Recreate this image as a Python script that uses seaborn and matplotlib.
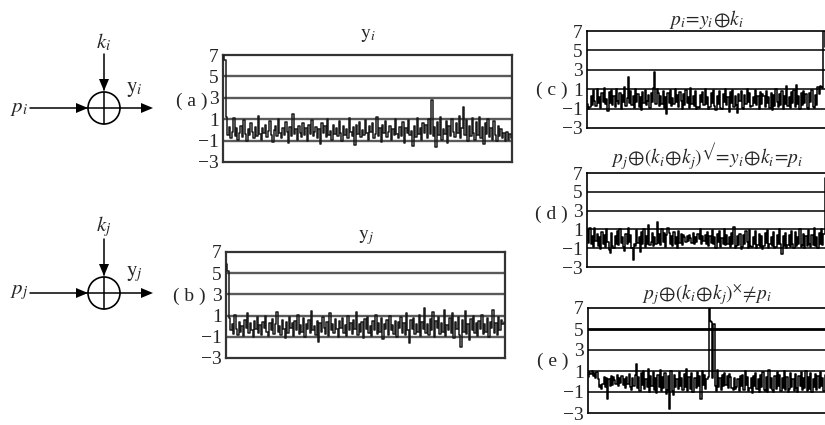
import matplotlib
matplotlib.use("Agg")
import matplotlib.pyplot as plt
from matplotlib.patches import Circle
import numpy as np
import pandas as pd
import seaborn as sns

# ---- signal samples (200 per trace) ---------------------------------------
y_i = [
    7.0, 6.5, 1.2, -0.5, 0.3, -0.8, -0.2, 1.1, -0.6, 0.2, -0.9, -0.3, 0.4, -0.7, 0.9, -0.4, -1.0, 0.1, -0.5, 0.6,
    -0.2, -0.8, 0.3, -0.6, 1.3, -0.4, -0.9, 0.2, -0.3, 0.5, -0.7, -0.1, 0.8, -0.5, -1.1, 0.0, 0.4, -0.6, 1.0, -0.3,
    -0.8, 0.2, -0.5, 0.7, -0.2, -1.2, 0.3, -0.6, 1.5, -0.4, 0.1, -0.9, 0.4, -0.3, -0.7, 0.6, -0.5, 0.2, -1.0, 0.5,
    -0.4, 0.9, -0.6, -0.2, 0.3, -0.8, 0.1, -1.3, 0.6, -0.3, 0.4, -0.7, 1.0, -0.5, -0.1, -0.9, 0.5, -0.4, 0.2, -0.6,
    0.8, -0.3, -1.0, 0.4, -0.5, 0.1, -0.8, 1.1, -0.2, -0.6, 0.3, -1.4, 0.5, -0.4, 0.7, -0.7, 0.0, -0.5, 0.9, -0.3,
    -0.9, 0.4, -0.2, 0.6, -0.8, -0.4, 1.2, -0.6, 0.2, -1.1, 0.5, -0.3, 0.8, -0.7, -0.2, 0.4, -0.9, 0.1, -0.5, 1.0,
    -0.4, -0.8, 0.3, -0.6, 0.7, -1.2, 0.2, -0.3, 0.9, -0.5, -0.1, -1.5, 0.4, -0.7, 1.1, -0.4, 0.2, -0.9, 0.6, -0.3,
    0.5, -0.8, 1.0, -0.4, 2.8, -0.6, 0.3, -1.6, 0.7, -0.5, 1.2, -0.9, 0.1, -0.4, 0.8, -1.2, 0.4, -0.6, 1.0, -0.2,
    -0.7, 0.6, -0.3, 1.3, -0.8, 0.2, 2.1, -0.5, 0.9, -1.0, 0.4, -0.6, 1.1, -0.3, -0.9, 0.7, -0.5, 1.2, -0.8, 0.3,
    -1.3, 0.6, -0.4, 1.0, -0.7, 0.2, -0.9, 0.8, -0.5, -1.0, 0.4, -0.6, 0.1, -0.8, -0.3, -1.0, -0.2, -0.9, -0.4, -0.8,
]
y_j = [
    5.9, 5.2, 0.8, -0.4, 0.2, -0.7, 1.1, -0.3, -0.8, 0.4, -0.5, 0.0, -0.9, 0.6, -0.2, 1.2, -0.6, 0.3, -0.4, -1.0,
    0.5, -0.3, 0.9, -0.6, 0.1, -0.8, 0.4, -0.2, 1.0, -0.5, -0.9, 0.3, -0.4, 0.7, -0.7, 0.2, 1.3, -0.5, 0.0, -0.8,
    0.6, -0.3, -1.1, 0.4, -0.6, 0.9, -0.2, 0.3, -0.9, 0.5, -0.4, 1.1, -0.7, 0.1, -0.5, 0.8, -1.0, 0.2, -0.3, 0.6,
    -0.6, 1.4, -0.4, 0.0, -0.8, 0.5, -1.5, 0.3, -0.5, 0.9, -0.2, -0.7, 0.4, -0.9, 1.2, -0.4, 0.2, -0.6, 0.7, -0.3,
    -1.0, 0.5, -0.2, 0.8, -0.6, 0.1, -0.9, 1.0, -0.4, 0.3, -0.7, 0.6, -0.3, 1.3, -0.8, 0.2, -0.5, 0.4, -1.1, 0.7,
    -0.3, 0.9, -0.6, 0.0, -0.9, 0.5, -0.4, 1.1, -0.7, 0.3, -0.5, 0.8, -1.2, 0.2, -0.3, 0.6, -0.8, 1.0, -0.4, 0.1,
    -0.7, 0.5, -1.0, 0.4, -0.2, 0.9, -0.6, 0.3, -0.8, 1.2, -0.4, -1.6, 0.6, -0.3, 0.8, -0.7, 0.2, -0.5, 1.1, -0.9,
    0.4, -0.3, 1.7, -0.6, 0.2, -0.8, 0.7, -0.4, 1.3, -1.0, 0.5, -0.2, 0.9, -0.7, 0.3, -0.5, 1.5, -0.9, 0.1, -0.4,
    0.8, -0.6, 1.2, -1.1, 0.4, -0.3, 0.9, -0.8, -2.0, 0.6, -0.5, 1.4, -0.7, 0.2, -1.3, 0.7, -0.4, 1.0, -0.6, 0.3,
    -0.9, 0.5, -0.3, 1.1, -0.7, 0.2, -0.5, 0.8, -1.0, 0.4, -0.2, 1.5, -0.6, 0.3, -0.8, 0.9, -0.4, 0.6, 0.2, 0.4,
]
p_i_dec = [
    -0.5, -1.0, -0.8, 0.3, -0.6, 0.9, -0.2, -0.7, 1.0, -0.4, 0.2, -0.9, 0.6, -0.3, 1.1, -0.5, 0.0, -1.2, 0.7, -0.4,
    0.9, -0.6, 0.3, -0.8, 1.0, -0.2, -0.5, 0.6, -1.0, 0.4, -0.3, 1.2, -0.7, 0.1, 2.3, -0.4, 0.8, -0.6, 0.3, -0.9,
    1.0, -0.3, 0.5, -0.8, 0.2, -1.1, 0.7, -0.4, 0.9, -0.6, -0.2, 0.4, -0.9, 0.6, -0.3, 1.1, 2.8, -0.5, 1.0, 0.6,
    -0.7, 0.3, -0.5, 0.8, -0.9, 0.2, -1.6, 0.6, -0.4, 0.9, -0.7, 0.1, -0.5, 1.0, -0.3, 0.4, -0.8, 0.7, -0.2, -1.0,
    0.5, -0.6, 0.9, -0.4, 0.2, -0.9, 1.1, -0.5, 0.3, -0.7, 0.8, -1.0, -0.8, -0.9, 0.4, -0.3, 0.7, -0.6, 1.0, -0.5,
    0.2, -1.0, -0.8, 0.6, -0.4, 0.9, -0.7, -1.1, 0.3, -0.5, 0.8, -0.9, -1.0, 0.5, -0.3, 1.0, -0.6, 0.2, -1.3, 0.7,
    -0.4, 0.9, -0.8, 0.3, -0.6, -1.5, 0.5, -0.2, 0.8, -0.9, -1.0, 0.4, -0.5, 1.0, -0.3, 0.6, -0.8, -0.7, 0.2, -0.4,
    0.9, -0.6, 0.3, -1.0, 0.7, -0.5, 0.5, 0.3, -0.8, 0.8, -0.4, 0.2, -0.9, 0.6, -1.1, 0.4, -0.7, 1.0, -0.3, -0.8,
    0.5, -0.6, 0.8, -1.0, 0.3, -0.5, 1.3, -0.7, 0.2, -0.9, 0.7, -0.4, 0.9, -0.8, 1.4, -0.5, 0.3, -1.0, 0.6, -0.6,
    0.8, -0.4, 0.5, -0.9, -1.0, 0.6, -0.3, 0.9, -0.8, -0.9, 0.4, -0.6, 1.2, 0.5, 1.3, 1.2, 1.1, 7.0, 5.3, 0.9,
]
p_j_right = [
    0.9, -0.4, 1.2, -0.6, 0.3, -0.9, 1.1, -0.2, 0.5, -0.8, 0.2, -1.1, 0.7, -0.5, 0.4, -0.9, 1.0, -0.3, -1.2, -1.5,
    0.6, -0.8, -1.0, 0.3, -0.5, 0.8, -0.7, 1.0, -0.4, 0.2, -0.9, -1.3, 0.5, -0.6, 1.2, -0.3, 0.4, -1.0, -2.3, -0.5,
    -0.8, 0.9, -0.4, 0.2, -1.4, 0.7, -0.6, 1.0, -0.9, 0.3, -0.5, 1.5, -0.7, -0.3, 0.6, -0.8, 0.2, -0.6, 1.8, -0.4,
    0.5, -0.7, 1.0, -0.3, 0.6, -0.9, 0.4, 1.1, 0.6, -0.5, 0.3, -0.8, 0.7, -0.6, 0.2, -1.0, 0.8, -0.4, 0.5, -0.7,
    0.4, 0.2, -0.3, 0.3, -0.2, 0.4, 0.1, -0.4, 0.6, -0.5, 0.2, -0.3, 0.5, 0.0, 1.0, -0.6, 0.3, -0.2, 0.4, -0.5,
    0.7, -0.8, 0.3, -0.4, 0.9, -0.6, 0.2, -1.0, 0.5, -0.3, 0.8, -0.9, 0.1, -0.5, 1.0, -0.7, 0.4, -0.6, 0.2, -0.9,
    0.6, -0.5, 1.3, -1.0, -0.8, 0.3, -0.7, 0.5, -1.1, -0.9, 0.4, -0.6, 0.8, -0.3, -1.0, 0.9, -0.8, -0.9, 0.2, -0.5,
    0.8, -1.0, -0.7, 0.5, -0.9, 0.3, -1.1, -0.8, 0.6, -0.4, 0.9, -1.0, -0.6, 0.2, -0.8, 0.7, -1.0, -0.9, 0.4, -0.6,
    1.0, -0.5, -1.6, 0.3, -0.8, 0.6, -1.0, -0.7, 0.4, -0.9, 0.8, -0.5, -1.0, 0.7, -0.8, 0.2, -0.6, 1.0, -0.9, -0.7,
    0.5, -1.0, 0.3, -0.8, 0.9, -0.6, -0.9, 0.4, -0.7, 1.1, -0.8, 0.2, -1.0, 0.6, -0.5, 1.0, -0.7, 0.5, 6.5, 7.0,
]
p_j_wrong = [
    0.4, 0.9, 0.7, 1.0, 0.5, 0.8, 0.3, 0.9, 0.2, -0.5, -0.3, -0.7, -0.2, 0.4, -0.5, 0.3, -1.7, 0.2, -0.4, 0.5,
    -0.3, 0.4, 0.1, -0.2, 0.6, -0.4, 0.3, -0.1, 0.5, -0.3, 0.2, -0.6, 0.4, -0.2, 0.7, -0.5, -0.8, 0.3, -0.4, 0.6,
    1.7, -0.6, 0.4, -0.9, 0.8, -0.3, 1.0, -0.7, 0.2, -0.5, 1.2, -1.0, 0.5, -0.4, 0.9, -0.8, 0.3, -1.1, 0.6, -0.5,
    1.1, -0.9, 0.4, -0.6, 0.8, -1.2, -0.8, 0.5, -2.6, 1.0, -0.9, -1.3, 0.6, -0.5, 0.2, -0.7, 0.9, -0.4, 0.3, -0.8,
    0.7, -0.5, 1.2, -0.9, 0.4, -0.7, 0.8, -1.0, -1.0, 0.3, -0.6, 0.9, -0.4, 0.5, -1.7, 1.0, -0.3, 0.6, -0.7, 0.2,
    0.4, 7.0, 5.8, 5.7, 0.3, 5.5, -0.4, -0.9, 1.1, -0.5, 0.3, -0.8, 0.6, -0.4, 0.8, -0.3, 0.5, -0.6, 0.7, 0.4,
    -0.6, -0.8, 0.3, -0.7, -0.5, 0.2, -0.9, 0.5, -0.4, 0.6, -0.8, 1.0, -0.3, 0.4, -0.9, -0.6, 0.3, -1.1, 0.5, -0.4,
    0.8, -0.7, 0.2, -1.0, 0.6, -0.5, 0.9, -0.8, -0.9, 0.4, -1.0, 1.1, -0.6, 0.3, -0.8, -1.0, 0.5, -0.7, 0.9, -0.4,
    0.6, -0.9, 0.3, -0.6, 1.0, -0.8, 0.4, -1.0, -0.7, 0.8, -0.5, 0.2, -0.9, 0.7, -0.6, -1.0, 0.5, -0.4, 0.9, -0.8,
    0.3, -0.6, 1.0, -0.9, 0.4, -0.7, 0.8, -1.0, 0.2, -0.5, 0.7, -0.8, 0.5, -0.6, 0.9, -0.4, 0.3, -0.9, 0.6, -0.5,
]

y_ticks = [-3, -1, 1, 3, 5, 7]
grid_levels = [5, 3, 1, -1]

sns.set_theme(style="white")
plt.rcParams["font.family"] = ["Liberation Serif", "DejaVu Serif"]
plt.rcParams["mathtext.fontset"] = "stix"
plt.rcParams["axes.unicode_minus"] = True

W, H = 825, 425
fig = plt.figure(figsize=(W / 100, H / 100), dpi=100)
fig.patch.set_facecolor("white")


def px_axes(left, right, top, bottom):
    return fig.add_axes([left / W, 1 - bottom / H, (right - left) / W, (bottom - top) / H])


CHECK = "\u221a"
title_c = r"$p_i\!=\!y_i\!\oplus\! k_i$"
title_d = r"$p_j\!\oplus\!(k_i\!\oplus\! k_j)^{" + CHECK + r"}\!=\!y_i\!\oplus\! k_i\!=\!p_i$"
title_e = r"$p_j\!\oplus\!(k_i\!\oplus\! k_j)^{\times}\!\neq\! p_i$"

panels = [
    # values, box (l, r, t, b), title, label, label pos, soft look, title pad
    (y_i, (223, 512, 55, 162), r"$\mathrm{y}_i$", "( a )", (192, 101), True, 12),
    (y_j, (226, 505, 252, 358), r"$\mathrm{y}_j$", "( b )", (189, 296), True, 9),
    (p_i_dec, (587, 827, 31, 128), title_c, "( c )", (552, 90), False, 4),
    (p_j_right, (587, 827, 173, 267), title_d, "( d )", (551, 214), False, 4),
    (p_j_wrong, (588, 827, 308, 413), title_e, "( e )", (553, 361), False, 4),
]

for vals, (l, r, t, b), title, label, lpos, soft, tpad in panels:
    ax = px_axes(l, r, t, b)
    df = pd.DataFrame({"n": np.arange(len(vals)), "v": vals})
    line_col = "#1a1a1a" if soft else "black"
    grid_col = "#5a5a5a" if soft else "black"
    for g in grid_levels:
        lw = 2.0 if (not soft and g == 5 and vals is p_j_wrong) else (1.7 if soft else 1.1)
        ax.axhline(g, color=grid_col, lw=lw, zorder=1)
    sns.lineplot(data=df, x="n", y="v", ax=ax, color=line_col, lw=1.1,
                 drawstyle="steps-mid", zorder=3)
    ax.set_xlim(-0.5, len(vals) - 0.5)
    ax.set_ylim(-3, 7)
    ax.set_yticks(y_ticks)
    ax.set_xticks([])
    ax.set_xlabel("")
    ax.set_ylabel("")
    ax.tick_params(axis="y", length=0, pad=3, labelsize=14)
    for s in ax.spines.values():
        s.set_color("#333333" if soft else "black")
        s.set_linewidth(1.6 if soft else 1.2)
    ax.set_title(title, fontsize=14, pad=tpad)
    fig.text(lpos[0] / W, 1 - lpos[1] / H, label, fontsize=14,
             ha="center", va="center")

# ---- XOR block diagrams ---------------------------------------------------
ov = fig.add_axes([0, 0, 1, 1], zorder=-1)
ov.set_xlim(0, W)
ov.set_ylim(H, 0)
ov.axis("off")


def arrow_head(ax, tip, direction, length=12, half=5):
    tx, ty = tip
    dx, dy = direction
    bx, by = tx - dx * length, ty - dy * length
    nx, ny = -dy, dx
    ax.fill([tx, bx + nx * half, bx - nx * half], [ty, by + ny * half, by - ny * half],
            color="black", lw=0)


def xor_block(ax, cy, sub, ktop):
    cx, rad = 104, 16
    ax.add_patch(Circle((cx, cy), rad, fill=False, lw=1.2, color="black"))
    ax.plot([cx, cx], [cy - rad, cy + rad], color="black", lw=1.1)
    ax.plot([30, cx + rad], [cy, cy], color="black", lw=1.1)
    ax.plot([cx + rad, 150], [cy, cy], color="black", lw=1.1)
    ax.plot([cx, cx], [ktop, cy - rad - 2], color="black", lw=1.1)
    arrow_head(ax, (cx - rad, cy), (1, 0))
    arrow_head(ax, (153, cy), (1, 0))
    arrow_head(ax, (cx, cy - rad - 1), (0, 1))
    ax.text(19, cy, rf"$p_{sub}$", fontsize=15, ha="center", va="center")
    ax.text(cx, ktop - 12, rf"$k_{sub}$", fontsize=15, ha="center", va="center")
    ax.text(134, cy - 19, rf"$\mathrm{{y}}_{sub}$", fontsize=15, ha="center", va="center")


xor_block(ov, 108, "i", 54)
xor_block(ov, 293, "j", 239)

fig.savefig("out.png", dpi=100, facecolor="white")
